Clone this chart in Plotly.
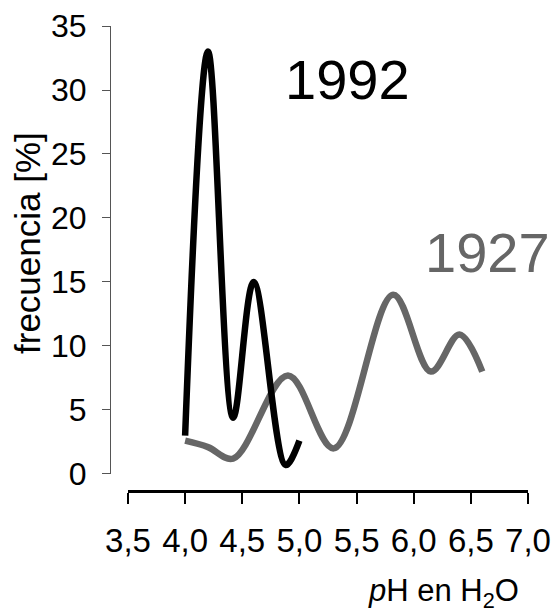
import plotly.graph_objects as go

# Data
ph_1992 = [4.0, 4.2, 4.42, 4.6, 4.88, 5.0]
freq_1992 = [3.0, 33.0, 4.4, 15.0, 0.7, 2.6]

ph_1927 = [4.0, 4.2, 4.42, 4.9, 5.3, 5.82, 6.15, 6.4, 6.6]
freq_1927 = [2.6, 2.1, 1.2, 7.7, 2.0, 14.0, 8.0, 10.9, 8.0]

x_ticks = [3.5, 4.0, 4.5, 5.0, 5.5, 6.0, 6.5, 7.0]
y_ticks = [0, 5, 10, 15, 20, 25, 30, 35]

FONT = "Liberation Sans, Arial, sans-serif"
GRAY = "#666666"

fig = go.Figure()
fig.add_trace(go.Scatter(x=ph_1927, y=freq_1927, mode="lines",
                         line=dict(color=GRAY, width=6.5, shape="spline", smoothing=1.0),
                         showlegend=False, hoverinfo="skip"))
fig.add_trace(go.Scatter(x=ph_1992, y=freq_1992, mode="lines",
                         line=dict(color="black", width=6.5, shape="spline", smoothing=1.0),
                         showlegend=False, hoverinfo="skip"))

fig.add_annotation(x=5.42, y=30.8, xref="x", yref="y", text="1992", showarrow=False,
                   font=dict(family=FONT, size=56, color="black"))
fig.add_annotation(x=6.65, y=17.3, xref="x", yref="y", text="1927", showarrow=False,
                   font=dict(family=FONT, size=56, color=GRAY))
fig.add_annotation(x=0.983, y=-0.22, xref="paper", yref="paper",
                   text="<i>p</i>H en H<sub>2</sub>O", showarrow=False,
                   xanchor="right", yanchor="middle",
                   font=dict(family=FONT, size=31, color="black"))
fig.add_annotation(x=-0.199, y=0.533, xref="paper", yref="paper",
                   text="frecuencia [%]", showarrow=False, textangle=-90,
                   xanchor="center", yanchor="middle",
                   font=dict(family=FONT, size=35, color="black"))

fig.update_layout(
    width=552, height=613,
    margin=dict(l=110, r=24, t=26, b=122),
    paper_bgcolor="white", plot_bgcolor="white",
    separators=",.",
    font=dict(family=FONT, size=33, color="black"),
    xaxis=dict(range=[3.5, 7.0], tickvals=x_ticks, tickformat=".1f",
               domain=[0.043, 1], anchor="free", position=0, automargin=False,
               showline=True, linecolor="black", linewidth=2.5,
               ticks="outside", ticklen=11, tickwidth=1.5, tickcolor="black",
               ticklabelstandoff=9,
               showgrid=False, zeroline=False,
               tickfont=dict(family=FONT, size=33, color="black")),
    yaxis=dict(range=[0, 35], tickvals=y_ticks,
               domain=[0.0366, 1], anchor="free", position=0, automargin=False,
               showline=True, linecolor="#555555", linewidth=1.2,
               ticks="outside", ticklen=8, tickwidth=1.2, tickcolor="#555555",
               ticklabelstandoff=9,
               showgrid=False, zeroline=False,
               tickfont=dict(family=FONT, size=32, color="black")),
)

fig.write_html("out.html", config={"displayModeBar": False},
               post_script="document.body.style.margin='0';document.body.style.overflow='hidden';")
